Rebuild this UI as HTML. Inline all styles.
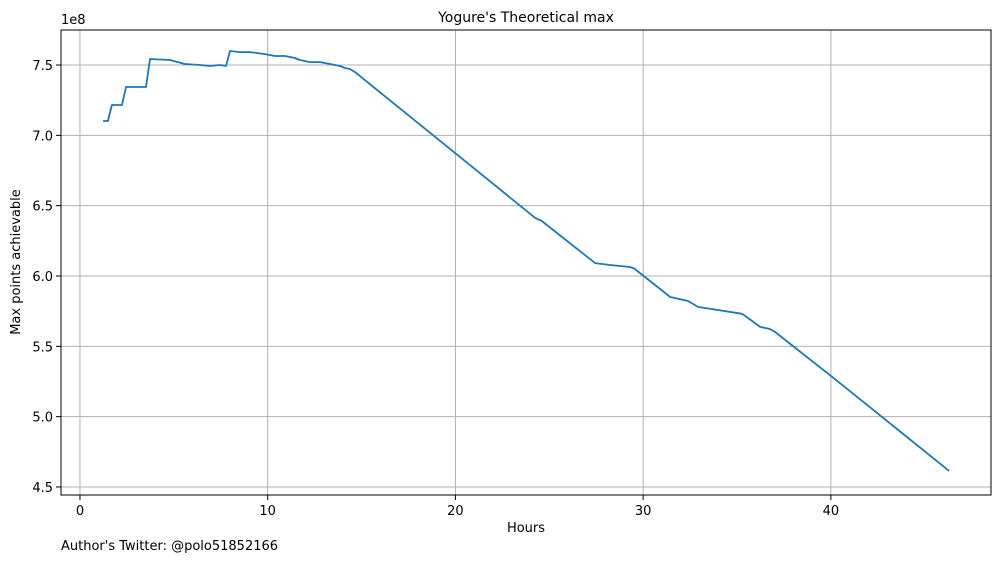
<!DOCTYPE html>
<html><head><meta charset="utf-8"><style>
body{margin:0;background:#fff}
svg{display:block;font-family:"DejaVu Sans","Liberation Sans",sans-serif}
</style></head><body>
<svg id="chart" width="1001" height="562">
<rect width="1001" height="562" fill="#fff"/>
<g id="grid"></g>
<g id="ticks"></g>
<path id="line" fill="none" stroke="#1f77b4" stroke-width="1.8" stroke-linejoin="round"/>
<rect x="61" y="30" width="930" height="465" fill="none" stroke="#000" stroke-width="1"/>
<text x="526" y="22" font-size="14" text-anchor="middle">Yogure's Theoretical max</text>
<text x="526" y="532" font-size="13" text-anchor="middle">Hours</text>
<text transform="translate(20,262) rotate(-90)" font-size="13" text-anchor="middle">Max points achievable</text>
<text x="61" y="24" font-size="13">1e8</text>
<text x="61" y="550" font-size="13">Author's Twitter: @polo51852166</text>
</svg>
<script>
const hours=[1.23,1.49,1.70,2.24,2.45,3.52,3.73,4.79,5.22,5.59,6.39,6.93,7.46,7.78,7.99,8.52,9.06,9.86,10.39,10.92,11.45,11.72,12.25,12.79,13.32,13.85,14.12,14.38,14.65,20.07,24.24,24.60,27.44,28.24,29.30,29.52,30.10,31.44,32.39,32.92,35.27,35.43,36.23,36.76,37.03,40.10,46.30];
const points=[7.102,7.102,7.216,7.216,7.344,7.344,7.543,7.536,7.521,7.507,7.500,7.493,7.500,7.493,7.600,7.592,7.592,7.578,7.564,7.564,7.550,7.536,7.521,7.521,7.507,7.493,7.479,7.472,7.450,6.865,6.414,6.391,6.092,6.078,6.064,6.053,5.993,5.851,5.822,5.780,5.731,5.716,5.638,5.623,5.602,5.280,4.614];
const xTicks=[0,10,20,30,40];
const yTicks=[4.5,5.0,5.5,6.0,6.5,7.0,7.5];
const NS="http://www.w3.org/2000/svg";
const X0=61,X1=991,Y0=30,Y1=495,xmin=-1.01,xmax=48.53,ymin=4.443,ymax=7.749;
function xs(v){return X0+(v-xmin)/(xmax-xmin)*(X1-X0);}
function ys(v){return Y1-(v-ymin)/(ymax-ymin)*(Y1-Y0);}
const grid=document.getElementById('grid'),ticks=document.getElementById('ticks');
function mk(tag,attrs,parent){const e=document.createElementNS(NS,tag);for(const k in attrs)e.setAttribute(k,attrs[k]);parent.appendChild(e);return e;}
xTicks.forEach(t=>{const x=xs(t);
 const g=mk('line',{x1:x,x2:x,y1:Y0,y2:Y1,stroke:'#b0b0b0','stroke-width':1},grid);
 
 
 const tk=mk('line',{x1:x,x2:x,y1:Y1,y2:Y1+5,stroke:'#000'},ticks);
 
 
 const tx=mk('text',{x:x,y:Y1+20,'font-size':13,'text-anchor':'middle'},ticks);tx.textContent=t;
 
 
});
yTicks.forEach(t=>{const y=ys(t);
 const g=mk('line',{x1:X0,x2:X1,y1:y,y2:y,stroke:'#b0b0b0','stroke-width':1},grid);
 
 
 const tk=mk('line',{x1:X0-5,x2:X0,y1:y,y2:y,stroke:'#000'},ticks);
 
 
 const tx=mk('text',{x:X0-8,y:y+5,'font-size':13,'text-anchor':'end'},ticks);tx.textContent=t.toFixed(1);
 
 
});
document.getElementById('line').setAttribute('d',hours.map((h,i)=>(i?'L':'M')+xs(h).toFixed(1)+','+ys(points[i]).toFixed(1)).join(''));
</script>
</body></html>
